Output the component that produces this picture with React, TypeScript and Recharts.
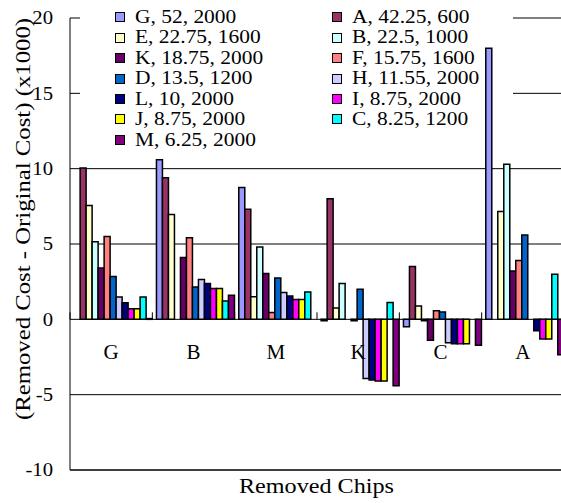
import React from 'react'
import { BarChart, Bar, XAxis, YAxis, CartesianGrid, Label } from 'recharts'

const chips = ['G', 'B', 'M', 'K', 'C', 'A']

const seriesKeys = ['G', 'A', 'E', 'B', 'K', 'F', 'D', 'H', 'L', 'I', 'J', 'C', 'M']
const seriesLabels = [
  'G, 52, 2000', 'A, 42.25, 600',
  'E, 22.75, 1600', 'B, 22.5, 1000',
  'K, 18.75, 2000', 'F, 15.75, 1600',
  'D, 13.5, 1200', 'H, 11.55, 2000',
  'L, 10, 2000', 'I, 8.75, 2000',
  'J, 8.75, 2000', 'C, 8.25, 1200',
  'M, 6.25, 2000',
]

const yTicks = [-10, -5, 0, 5, 10, 15, 20]

// cost change (x1000) for each removed chip, in chip order G B M K C A
const gValues = [null, 10.6, 8.75, -0.1, -0.5, 18.0]
const aValues = [10.05, 9.4, 7.3, 8.0, 3.5, null]
const eValues = [7.55, 6.95, 1.5, 0.75, 0.88, 7.15]
const bValues = [5.15, null, 4.8, 2.38, -0.1, 10.3]
const kValues = [3.4, 4.1, 3.05, null, -1.38, 3.2]
const fValues = [5.5, 5.42, 0.45, -0.1, 0.57, 3.9]
const dValues = [2.85, 2.15, 2.75, 2.0, 0.48, 5.6]
const hValues = [1.48, 2.65, 1.78, -3.92, -1.55, 0]
const lValues = [1.1, 2.38, 1.55, -4.02, -1.62, -0.75]
const iValues = [0.7, 2.05, 1.32, -4.1, -1.62, -1.3]
const jValues = [0.7, 2.05, 1.32, -4.1, -1.62, -1.3]
const cValues = [1.48, 1.22, 1.82, 1.12, null, 3.0]
const mValues = [0.05, 1.6, null, -4.4, -1.72, -2.35]

const valuesByKey: Record<string, (number | null)[]> = {
  G: gValues, A: aValues, E: eValues, B: bValues, K: kValues, F: fValues, D: dValues,
  H: hValues, L: lValues, I: iValues, J: jValues, C: cValues, M: mValues,
}

const colors: Record<string, string> = {
  G: '#9999FF', A: '#993366', E: '#FFFFCC', B: '#CCFFFF', K: '#660066', F: '#FF8080',
  D: '#0066CC', H: '#CCCCFF', L: '#000080', I: '#FF00FF', J: '#FFFF00', C: '#00FFFF', M: '#800080',
}

const data = chips.map((chip, i) => {
  const row: Record<string, string | number | null> = { chip }
  seriesKeys.forEach((k) => { row[k] = valuesByKey[k][i] })
  return row
})

const FONT = '"Liberation Serif", "Times New Roman", Tinos, serif'

// layout
const CHART_W = 564
const CHART_H = 503
const TOP = 18
const Y_AXIS_W = 70
const X_AXIS_H = 33
const PLOT_W = CHART_W - Y_AXIS_W
const PLOT_H = CHART_H - TOP - X_AXIS_H
const Y_MIN = -10
const Y_MAX = 20
const ZERO_Y = TOP + PLOT_H * Y_MAX / (Y_MAX - Y_MIN)
const BAND = PLOT_W / chips.length

// white legend box sits over the upper gridlines
const LEGEND_LEFT = 80
const LEGEND_RIGHT = 513
const LEGEND_BOTTOM = 155

const gridLine = (props: any) => {
  const { x1, x2, y1, y2, index } = props
  if (y1 < LEGEND_BOTTOM) {
    return (
      <g key={`grid-${index}-${y1}`}>
        <line x1={x1} x2={LEGEND_LEFT} y1={y1} y2={y2} stroke="#000" strokeWidth={1} />
        <line x1={LEGEND_RIGHT} x2={x2} y1={y1} y2={y2} stroke="#000" strokeWidth={1} />
      </g>
    )
  }
  return <line key={`grid-${index}-${y1}`} x1={x1} x2={x2} y1={y1} y2={y2} stroke="#000" strokeWidth={1} />
}

const CategoryTick = ({ x, payload }: any) => (
  <g>
    <line x1={x - BAND / 2} x2={x - BAND / 2} y1={ZERO_Y - 7} y2={ZERO_Y} stroke="#000" strokeWidth={1} />
    <text x={x} y={ZERO_Y + 40} textAnchor="middle" fontSize={21} fontFamily={FONT} fill="#000">
      {payload.value}
    </text>
  </g>
)

const ValueTick = ({ x, y, payload }: any) => (
  <text
    transform={`translate(${x} ${y}) scale(1.12 1)`}
    dy="0.35em"
    textAnchor="end"
    fontSize={18.5}
    fontFamily={FONT}
    fill="#000"
  >
    {payload.value}
  </text>
)

const YTitle = () => (
  <text
    transform="translate(30 219) rotate(-90)"
    textAnchor="middle"
    fontSize={22}
    fontFamily={FONT}
    fill="#000"
    textLength={402}
    lengthAdjust="spacingAndGlyphs"
  >
    (Removed Cost - Original Cost) (x1000)
  </text>
)

const XTitle = () => (
  <text
    x={316.5}
    y={493}
    textAnchor="middle"
    fontSize={21}
    fontFamily={FONT}
    fill="#000"
    textLength={155}
    lengthAdjust="spacingAndGlyphs"
  >
    Removed Chips
  </text>
)

const ChipLegend = () => (
  <div
    style={{
      position: 'absolute',
      left: 115,
      top: 7,
      display: 'grid',
      gridTemplateColumns: '217px 217px',
      gridAutoRows: '20.45px',
      fontFamily: FONT,
      fontSize: 19.5,
      lineHeight: '20.45px',
      color: '#000',
      pointerEvents: 'none',
    }}
  >
    {seriesKeys.map((k, i) => (
      <div key={k} style={{ display: 'flex', alignItems: 'center' }}>
        <span
          style={{
            width: 10,
            height: 10,
            boxSizing: 'border-box',
            border: '1.5px solid #000',
            background: colors[k],
            flex: 'none',
          }}
        />
        <span
          style={{
            marginLeft: 10,
            display: 'inline-block',
            whiteSpace: 'nowrap',
            transform: 'scaleX(1.1)',
            transformOrigin: 'left center',
          }}
        >
          {seriesLabels[i]}
        </span>
      </div>
    ))}
  </div>
)

export default function App() {
  return (
    <div style={{ position: 'absolute', left: 0, top: 0, width: 561, height: 503, overflow: 'hidden', background: '#fff' }}>
      <BarChart
        width={CHART_W}
        height={CHART_H}
        data={data}
        margin={{ top: TOP, right: 0, bottom: 0, left: 0 }}
        barGap={0}
        barCategoryGap="5%"
      >
        <CartesianGrid vertical={false} horizontal={gridLine} />
        <XAxis
          dataKey="chip"
          height={X_AXIS_H}
          axisLine={{ stroke: '#000' }}
          tickLine={false}
          tick={(props: any) => <CategoryTick {...props} />}
          interval={0}
        >
          <Label content={() => <XTitle />} />
        </XAxis>
        <YAxis
          domain={[Y_MIN, Y_MAX]}
          ticks={yTicks}
          width={Y_AXIS_W}
          axisLine={{ stroke: '#000' }}
          tickLine={false}
          tickSize={0}
          tickMargin={17}
          tick={(props: any) => <ValueTick {...props} />}
          allowDataOverflow
        >
          <Label content={() => <YTitle />} />
        </YAxis>
        {seriesKeys.map((k) => (
          <Bar
            key={k}
            dataKey={k}
            name={k}
            fill={colors[k]}
            stroke="#000"
            strokeWidth={1.5}
            isAnimationActive={false}
          />
        ))}
      </BarChart>
      <ChipLegend />
    </div>
  )
}
